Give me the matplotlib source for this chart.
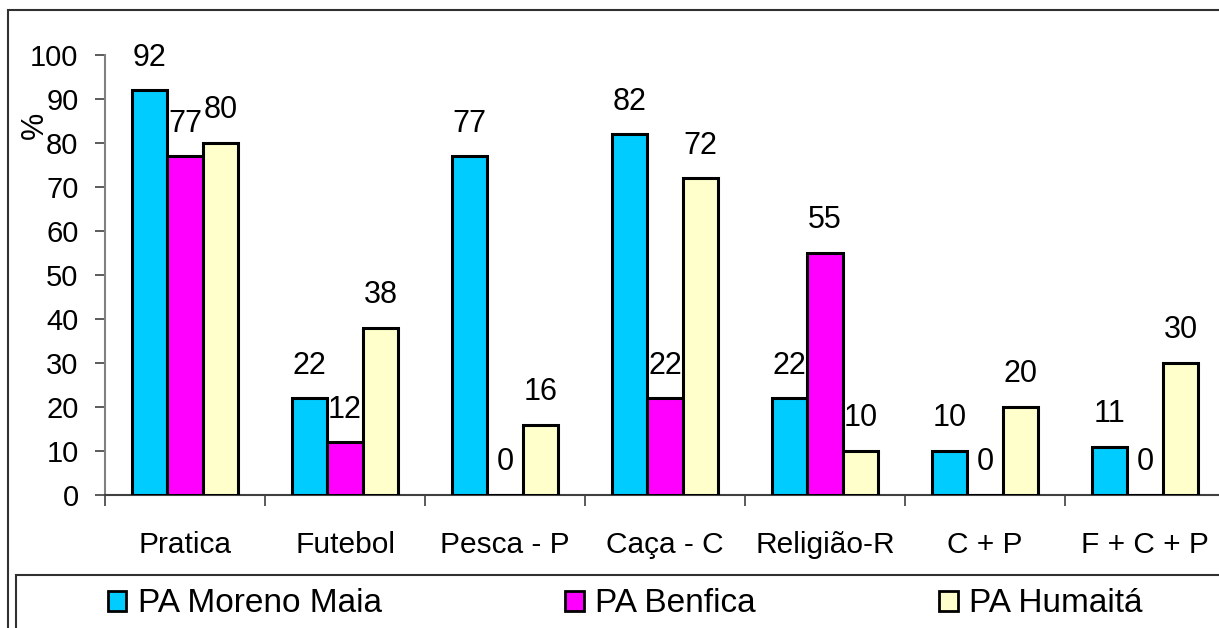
import numpy as np
import matplotlib
matplotlib.use("Agg")
import matplotlib.pyplot as plt
from matplotlib.patches import Rectangle, Patch

plt.rcParams['font.family'] = ['Liberation Sans', 'DejaVu Sans']

categorias = ["Pratica", "Futebol", "Pesca - P", "Caça - C", "Religião-R", "C + P", "F + C + P"]
moreno_maia = [92, 22, 77, 82, 22, 10, 11]
benfica = [77, 12, 0, 22, 55, 0, 0]
humaita = [80, 38, 16, 72, 10, 20, 30]
series = ["PA Moreno Maia", "PA Benfica", "PA Humaitá"]
cores = ["#00CCFF", "#FF00FF", "#FFFFCC"]

W, H = 1219, 628
fig = plt.figure(figsize=(W/100, H/100), dpi=100)
ax = fig.add_axes([105/W, (H-495)/H, 1120/W, 440/H])

x = np.arange(len(categorias))
w = 0.22
for i, (vals, cor) in enumerate(zip([moreno_maia, benfica, humaita], cores)):
    pos = x + (i-1)*0.223
    ax.bar(pos, vals, w, color=cor, edgecolor="black", linewidth=2.2, zorder=3)
    for px, v in zip(pos, vals):
        ax.annotate(str(v), (px, v), xytext=(0, 23.5), textcoords="offset points",
                    ha="center", va="center", fontsize=22)

ax.set_xlim(-0.5, len(categorias)-0.5)
ax.set_ylim(0, 100)
ax.set_yticks(range(0, 101, 10))
ax.set_xticks(np.arange(len(categorias)+1)-0.5, minor=False)
ax.set_xticklabels([])
ax.set_xticks(x, minor=True)
ax.set_xticklabels(categorias, minor=True)
ax.tick_params(axis="x", which="minor", length=0, pad=26, labelsize=21.5)
ax.tick_params(axis="x", which="major", length=8, color="#404040", width=1.2)
ax.tick_params(axis="y", length=7, color="#404040", width=1.2, labelsize=21, pad=12)
for s in ["top", "right"]:
    ax.spines[s].set_visible(False)
ax.spines["left"].set_color("#808080")
ax.spines["left"].set_linewidth(1.5)
ax.spines["bottom"].set_color("#404040")
ax.spines["bottom"].set_linewidth(1.5)

fig.text(35/W, 1-125/H, "%", rotation=90, fontsize=22, ha="center", va="center")

# moldura externa e caixa da legenda
fig.patches.append(Rectangle((8/W, -0.1), 1.2, 1-10/H+0.1, transform=fig.transFigure,
                             fill=False, edgecolor="#303030", linewidth=1.5))
fig.patches.append(Rectangle((16/W, -0.1), 1.2, 1-575/H+0.1, transform=fig.transFigure,
                             fill=False, edgecolor="#303030", linewidth=1.5))

handles = [Patch(facecolor=c, edgecolor="black", linewidth=2) for c in cores]
fig.legend(handles, series, ncol=3, loc="center left", bbox_to_anchor=(108/W, 1-604/H),
           frameon=False, fontsize=24, handlelength=0.55, handleheight=0.55,
           handletextpad=0.35, columnspacing=5.5, borderaxespad=0, borderpad=0)

fig.savefig("out.png", dpi=100)
